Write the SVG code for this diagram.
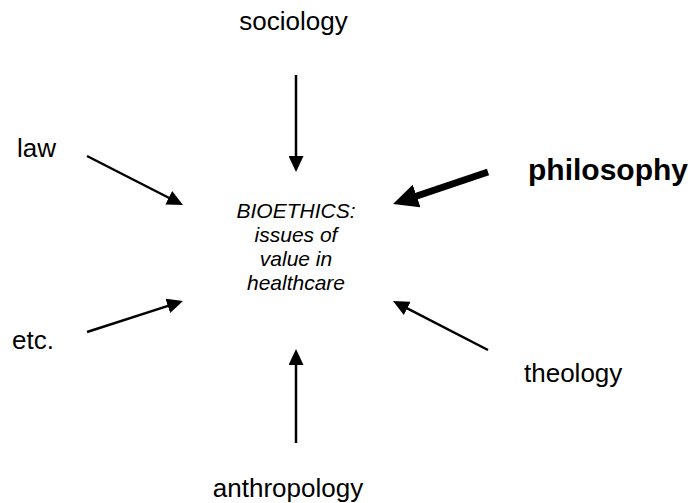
<svg xmlns="http://www.w3.org/2000/svg" width="697" height="503" viewBox="0 0 697 503">
<style>
  text { font-family: "Liberation Sans", Arial, sans-serif; fill: #000; }
  .lbl { font-size: 26px; }
  .big { font-size: 30px; font-weight: bold; }
  .ctr { font-size: 21px; font-style: italic; text-anchor: middle; }
  .thin { stroke: #000; stroke-width: 2.5; fill: none; marker-end: url(#head); }
  .thick { stroke: #000; stroke-width: 7; fill: none; marker-end: url(#bighead); }
</style>
<defs>
  <marker id="head" markerUnits="userSpaceOnUse" markerWidth="16" markerHeight="15" refX="6" refY="7.5" orient="auto">
    <path d="M0,0 L16,7.5 L0,15 z" fill="#000"/>
  </marker>
  <marker id="bighead" markerUnits="userSpaceOnUse" markerWidth="25" markerHeight="24" refX="10" refY="12" orient="auto">
    <path d="M0,0 L25,12 L0,24 z" fill="#000"/>
  </marker>
</defs>
<rect width="697" height="503" fill="#fff"/>
<g id="connectors">
  <line class="thin" x1="296" y1="75" x2="296" y2="162"/>
  <line class="thin" x1="296" y1="443" x2="296" y2="359"/>
  <line class="thin" x1="87" y1="156" x2="174.1" y2="200.5"/>
  <line class="thin" x1="87" y1="332" x2="173.5" y2="304.1"/>
  <line class="thin" x1="488" y1="350" x2="401.9" y2="305.6"/>
  <line class="thick" x1="488" y1="172" x2="407.2" y2="199.2"/>
</g>
<g id="bioethics">
  <text class="ctr" x="296" y="218">BIOETHICS:</text>
  <text class="ctr" x="296" y="242">issues of</text>
  <text class="ctr" x="296" y="266">value in</text>
  <text class="ctr" x="296" y="290">healthcare</text>
</g>
<g id="sociology"><text class="lbl" x="293.5" y="30" text-anchor="middle">sociology</text></g>
<g id="law"><text class="lbl" x="17" y="157">law</text></g>
<g id="philosophy"><text class="big" x="528" y="180">philosophy</text></g>
<g id="etc"><text class="lbl" x="12" y="349">etc.</text></g>
<g id="theology"><text class="lbl" x="524" y="382">theology</text></g>
<g id="anthropology"><text class="lbl" x="288" y="497" text-anchor="middle">anthropology</text></g>
</svg>
